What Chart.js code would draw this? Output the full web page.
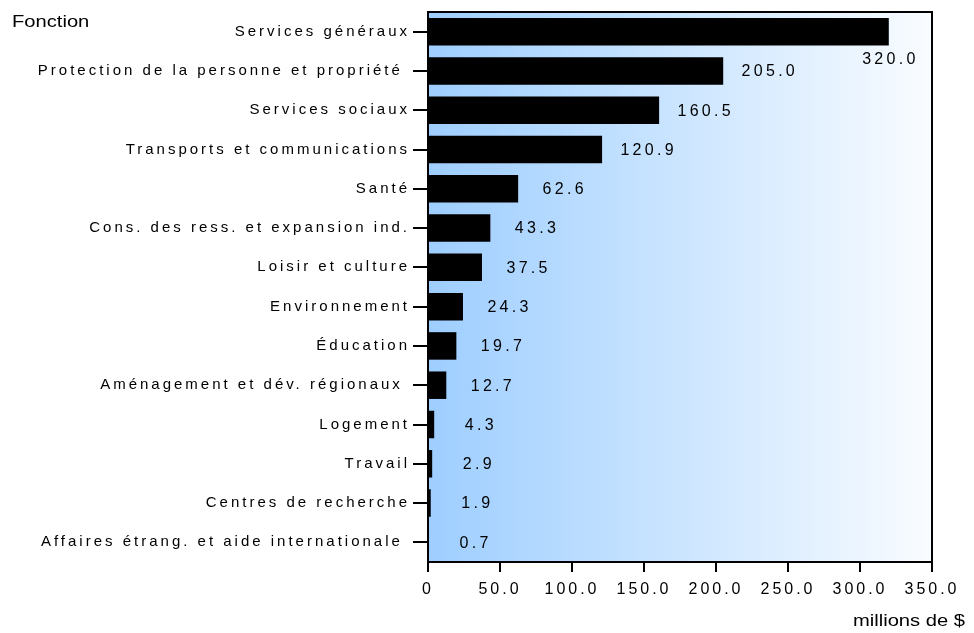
<!DOCTYPE html>
<html lang="fr">
<head>
<meta charset="utf-8">
<title>Dépenses par fonction</title>
<script src="https://cdn.jsdelivr.net/npm/chart.js@4.4.1/dist/chart.umd.min.js"></script>
<style>
  html, body { margin: 0; padding: 0; background: #fff; }
  #wrap { width: 974px; height: 633px; }
</style>
</head>
<body>
<div id="wrap"><canvas id="chart" width="974" height="633"></canvas></div>
<script>
// fonctions, de haut en bas
const fonctions = [
  'Services généraux',
  'Protection de la personne et propriété ',
  'Services sociaux',
  'Transports et communications',
  'Santé',
  'Cons. des ress. et expansion ind.',
  'Loisir et culture',
  'Environnement',
  'Éducation',
  'Aménagement et dév. régionaux ',
  'Logement',
  'Travail',
  'Centres de recherche',
  'Affaires étrang. et aide internationale '
];
// millions de $
const montants = [320.0, 205.0, 160.5, 120.9, 62.6, 43.3, 37.5, 24.3, 19.7, 12.7, 4.3, 2.9, 1.9, 0.7];
const axeMin = 0;
const axeMax = 350;
const axePas = 50;

const FONT = '"Liberation Sans", Arial, sans-serif';
const SPACING = '3px';

// fond dégradé, espacement des lettres, titres et étiquettes de valeurs
const habillage = {
  id: 'habillage',
  beforeLayout(chart) { chart.ctx.letterSpacing = SPACING; },
  beforeDraw(chart) {
    const { ctx, chartArea: a } = chart;
    ctx.save();
    const g = ctx.createLinearGradient(a.left, 0, a.right, 0);
    g.addColorStop(0, 'rgb(158,206,255)');
    g.addColorStop(1, 'rgb(249,252,255)');
    ctx.fillStyle = g;
    ctx.fillRect(a.left, a.top, a.right - a.left, a.bottom - a.top);
    ctx.restore();
    ctx.letterSpacing = SPACING;
  },
  afterDatasetsDraw(chart) {
    const { ctx, chartArea: a } = chart;
    const meta = chart.getDatasetMeta(0);
    ctx.save();
    ctx.letterSpacing = '3.3px';
    ctx.font = '16px ' + FONT;
    ctx.fillStyle = '#000';
    ctx.textAlign = 'center';
    ctx.textBaseline = 'middle';
    meta.data.forEach((bar, i) => {
      const txt = montants[i].toFixed(1);
      const w = ctx.measureText(txt).width;
      let x = bar.x + 45;
      let y = bar.y + 1;
      if (x + w / 2 > a.right) {
        // pas de place à droite : sous la barre
        x = bar.x;
        y = bar.y + bar.height / 2 + 14;
      }
      ctx.fillText(txt, x + 1.6, y);
    });
    ctx.restore();
  },
  afterDraw(chart) {
    const { ctx, chartArea: a } = chart;
    ctx.save();
    ctx.strokeStyle = '#000';
    ctx.lineWidth = 2;
    ctx.strokeRect(a.left, a.top, a.right - a.left, a.bottom - a.top);

    // titres, police élargie
    ctx.letterSpacing = '0px';
    ctx.font = '16px ' + FONT;
    ctx.fillStyle = '#000';
    ctx.textBaseline = 'middle';
    const sx = 1.26;
    ctx.save();
    ctx.translate(12, 23);
    ctx.scale(sx, 1);
    ctx.textAlign = 'left';
    ctx.fillText('Fonction', 0, 0);
    ctx.restore();
    ctx.save();
    ctx.translate(965, 622);
    ctx.scale(sx, 1);
    ctx.textAlign = 'right';
    ctx.fillText('millions de $', 0, 0);
    ctx.restore();
    ctx.restore();
  }
};

new Chart(document.getElementById('chart'), {
  type: 'bar',
  data: {
    labels: fonctions,
    datasets: [{
      data: montants,
      backgroundColor: '#000',
      borderWidth: 0,
      barPercentage: 0.7,
      categoryPercentage: 1
    }]
  },
  options: {
    indexAxis: 'y',
    responsive: false,
    animation: false,
    layout: { padding: { left: 0, top: 12, right: 42, bottom: 0 } },
    plugins: { legend: { display: false }, tooltip: { enabled: false } },
    scales: {
      x: {
        min: axeMin,
        max: axeMax,
        afterFit(s) { s.height = 71; },
        border: { display: true, color: '#000', width: 2 },
        grid: { drawOnChartArea: false, drawTicks: true, tickLength: 10, color: '#000', lineWidth: 2 },
        ticks: {
          stepSize: axePas,
          padding: 8,
          color: '#000',
          font: { family: FONT, size: 16 },
          maxRotation: 0,
          callback: v => v === 0 ? '0' : Number(v).toFixed(1)
        }
      },
      y: {
        afterFit(s) { s.width = 428; },
        border: { display: true, color: '#000', width: 2 },
        grid: { offset: false, drawOnChartArea: false, drawTicks: true, tickLength: 15, color: '#000', lineWidth: 2 },
        ticks: {
          padding: 3,
          color: '#000',
          autoSkip: false,
          font: { family: FONT, size: 15 }
        }
      }
    }
  },
  plugins: [habillage]
});
</script>
</body>
</html>
